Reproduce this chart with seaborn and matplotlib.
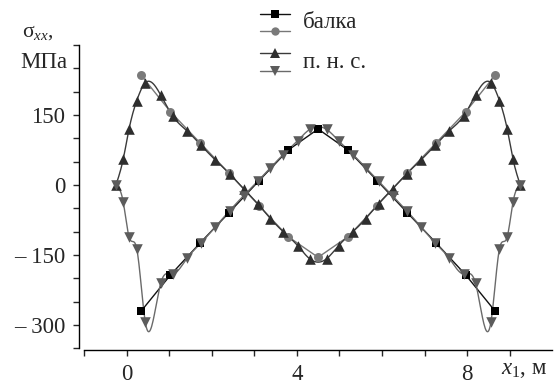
import numpy as np
import pandas as pd
import matplotlib
matplotlib.use("Agg")
import matplotlib.pyplot as plt
import seaborn as sns
from matplotlib.lines import Line2D
from matplotlib.ticker import FixedLocator, FixedFormatter

# ---------------- data ----------------
beam_x = [0.335, 1.03, 1.72, 2.41, 3.11, 3.80, 4.50, 5.20, 5.89, 6.59, 7.28, 7.97, 8.665]
beam_square = [-271, -193, -125, -59, 9, 75, 120, 75, 9, -59, -125, -193, -271]
beam_circle = [236, 157, 91, 25, -44, -111, -155, -111, -44, 25, 91, 157, 236]

pns_x = [-0.25, -0.08, 0.06, 0.24, 0.44, 0.80, 1.08, 1.42, 1.75, 2.08, 2.42, 2.75,
         3.08, 3.38, 3.68, 4.02, 4.30, 4.70, 4.98, 5.32, 5.62, 5.92, 6.25, 6.58,
         6.92, 7.25, 7.58, 7.92, 8.20, 8.56, 8.76, 8.94, 9.08, 9.25]
pns_up = [0, 55, 121, 181, 219, 193, 148, 116, 85, 54, 24, -8,
          -40, -72, -100, -130, -158, -158, -130, -100, -72, -40, -8, 24,
          54, 85, 116, 148, 193, 219, 181, 121, 55, 0]
pns_down = [0, -36, -112, -137, -294, -211, -191, -157, -124, -90, -55, -23,
            8, 37, 65, 95, 119, 119, 95, 65, 37, 8, -23, -55,
            -90, -124, -157, -191, -211, -294, -137, -112, -36, 0]

y_ticks = [-350, -300, -250, -200, -150, -100, -50, 0, 50, 100, 150, 200, 250, 300]
y_labels = {-300: "– 300", -150: "– 150", 0: "0", 150: "150"}
x_ticks = [-1, 0, 1, 2, 3, 4, 5, 6, 7, 8, 9, 10]
x_labels = {0: "0", 4: "4", 8: "8"}


def natural_spline(x, y, n=600):
    x = np.asarray(x, float)
    y = np.asarray(y, float)
    k = len(x)
    h = np.diff(x)
    A = np.zeros((k, k))
    b = np.zeros(k)
    A[0, 0] = A[-1, -1] = 1
    for i in range(1, k - 1):
        A[i, i - 1] = h[i - 1]
        A[i, i] = 2 * (h[i - 1] + h[i])
        A[i, i + 1] = h[i]
        b[i] = 6 * ((y[i + 1] - y[i]) / h[i] - (y[i] - y[i - 1]) / h[i - 1])
    M = np.linalg.solve(A, b)
    xs = np.linspace(x[0], x[-1], n)
    idx = np.clip(np.searchsorted(x, xs) - 1, 0, k - 2)
    x0, x1 = x[idx], x[idx + 1]
    hh = x1 - x0
    t0 = x1 - xs
    t1 = xs - x0
    ys = (M[idx] * t0 ** 3 / (6 * hh) + M[idx + 1] * t1 ** 3 / (6 * hh)
          + (y[idx] - M[idx] * hh ** 2 / 6) * t0 / hh
          + (y[idx + 1] - M[idx + 1] * hh ** 2 / 6) * t1 / hh)
    return xs, ys


sns.set_style("white")
plt.rcParams["font.family"] = ["Liberation Serif", "DejaVu Serif"]
plt.rcParams["mathtext.fontset"] = "custom"
plt.rcParams["mathtext.rm"] = "Liberation Serif"
plt.rcParams["mathtext.it"] = "Liberation Serif:italic"

W, H = 558, 385
fig = plt.figure(figsize=(W / 100, H / 100), dpi=100)
ax = fig.add_axes([79 / W, 1 - 350 / H, (552 - 79) / W, (350 - 45) / H])

c_sq, c_ci, c_up, c_dn = "#000000", "#7a7a7a", "#2e2e2e", "#5c5c5c"
l_sq, l_ci, l_up, l_dn = "#111111", "#777777", "#3a3a3a", "#6a6a6a"

# lines
sns.lineplot(x=beam_x, y=beam_square, ax=ax, color=l_sq, lw=1.0, sort=False, estimator=None)
sns.lineplot(x=beam_x, y=beam_circle, ax=ax, color=l_ci, lw=1.0, sort=False, estimator=None)
sx, sy = natural_spline(pns_x, pns_up)
sns.lineplot(x=sx, y=sy, ax=ax, color=l_up, lw=1.0, sort=False, estimator=None)
sx, sy = natural_spline(pns_x, pns_down)
sns.lineplot(x=sx, y=sy, ax=ax, color=l_dn, lw=1.0, sort=False, estimator=None)

# markers
sns.scatterplot(x=beam_x, y=beam_square, ax=ax, marker="s", color=c_sq, s=32, linewidth=0, zorder=5)
sns.scatterplot(x=beam_x, y=beam_circle, ax=ax, marker="o", color=c_ci, s=42, linewidth=0, zorder=5)
sns.scatterplot(x=pns_x, y=pns_up, ax=ax, marker="^", color=c_up, s=58, linewidth=0, zorder=6)
sns.scatterplot(x=pns_x, y=pns_down, ax=ax, marker="v", color=c_dn, s=58, linewidth=0, zorder=6)

ax.set_xlim(-1.118, 9.995)
ax.set_ylim(-353.6, 300)
ax.set_xlabel("")
ax.set_ylabel("")

for s in ["top", "right"]:
    ax.spines[s].set_visible(False)
for s in ["left", "bottom"]:
    ax.spines[s].set_color("black")
    ax.spines[s].set_linewidth(1.0)
ax.spines["left"].set_bounds(-350, 300)
ax.spines["bottom"].set_bounds(-1, 10)

ax.yaxis.set_major_locator(FixedLocator(y_ticks))
ax.yaxis.set_major_formatter(FixedFormatter([y_labels.get(v, "") for v in y_ticks]))
ax.xaxis.set_major_locator(FixedLocator(x_ticks))
ax.xaxis.set_major_formatter(FixedFormatter([x_labels.get(v, "") for v in x_ticks]))
ax.tick_params(axis="y", direction="out", length=4, width=1, pad=6, labelsize=16.5, left=True)
ax.tick_params(axis="x", direction="out", length=4, width=1, pad=6, labelsize=16.5, bottom=True)
ax.grid(False)

# axis titles
fig.text(22 / W, 1 - 33 / H, r"σ$_{\mathit{xx}}$,", fontsize=15.5, ha="left", va="center")
fig.text(20 / W, 1 - 62 / H, "МПа", fontsize=16.5, ha="left", va="center")
fig.text(501 / W, 1 - 369 / H, r"$\mathit{x}_{1}$, м", fontsize=16.5, ha="left", va="center")

# legend (manual)
rows = [(14, "s", c_sq, l_sq, 5.5), (31, "o", c_ci, l_ci, 6), (53, "^", c_up, l_up, 7.5), (71, "v", c_dn, l_dn, 7.5)]
for yy, mk, mc, lc, ms in rows:
    yf = 1 - yy / H
    fig.add_artist(Line2D([260 / W, 275 / W, 290 / W], [yf, yf, yf], transform=fig.transFigure,
                          color=lc, lw=1.0, marker=mk, markersize=ms, markerfacecolor=mc,
                          markeredgewidth=0, markevery=[1]))
fig.text(303 / W, 1 - 22 / H, "балка", fontsize=16.5, ha="left", va="center")
fig.text(303 / W, 1 - 62 / H, "п. н. с.", fontsize=16.5, ha="left", va="center")

fig.savefig("out.png", dpi=100)
